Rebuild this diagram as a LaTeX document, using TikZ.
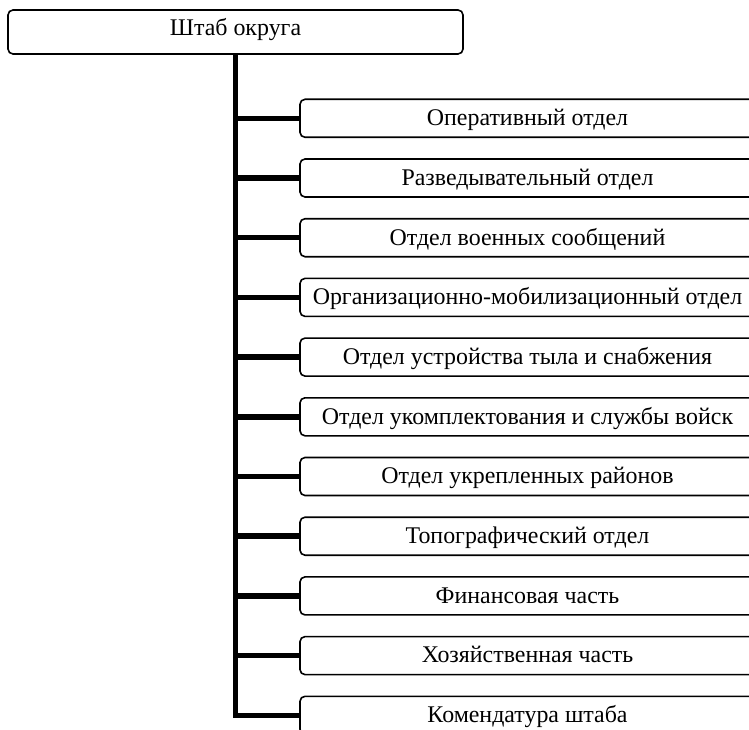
\documentclass[tikz,border=0pt]{standalone}
\usepackage{fontspec}
\setmainfont{Liberation Serif}
\begin{document}
\begin{tikzpicture}[x=1pt,y=-1pt,
  box/.style={draw,line width=1.6pt,rounded corners=5pt,minimum width=455pt,minimum height=38pt,inner sep=0pt,font=\fontsize{23.9}{28}\selectfont,fill=white,text height=19.8pt,text depth=5.2pt},
  conn/.style={line width=5.5pt,line join=miter}]
\useasboundingbox (0,0) rectangle (749,730);
\clip (0,0) rectangle (749,730);
\fill[white] (0,0) rectangle (749,730);
\node[box,minimum height=44pt,text height=13.2pt] (top) at (235.5,32) {Штаб округа};
\node[box] (b1) at (527.5,118.3) {Оперативный отдел};
\node[box] (b2) at (527.5,178) {Разведывательный отдел};
\node[box] (b3) at (527.5,237.7) {Отдел военных сообщений};
\node[box] (b4) at (527.5,297.4) {Организационно-мобилизационный отдел};
\node[box] (b5) at (527.5,357.1) {Отдел устройства тыла и снабжения};
\node[box] (b6) at (527.5,416.8) {Отдел укомплектования и службы войск};
\node[box] (b7) at (527.5,476.5) {Отдел укрепленных районов};
\node[box] (b8) at (527.5,536.2) {Топографический отдел};
\node[box] (b9) at (527.5,595.9) {Финансовая часть};
\node[box] (b10) at (527.5,655.6) {Хозяйственная часть};
\node[box] (b11) at (527.5,715.3) {Комендатура штаба};
\draw[conn] (top.south) |- (b11.west);
\foreach \i in {1,...,10}{
  \draw[conn] (top.south |- b\i.west) -- (b\i.west);
}
\end{tikzpicture}
\end{document}
